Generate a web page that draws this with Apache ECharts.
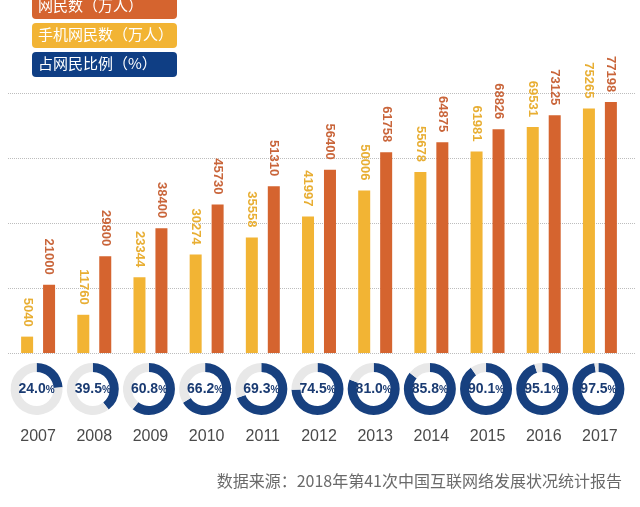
<!DOCTYPE html>
<html>
<head>
<meta charset="utf-8">
<script src="https://cdn.jsdelivr.net/npm/echarts@6/dist/echarts.min.js"></script>
<style>
  html, body { margin: 0; padding: 0; background: #fff; }
  #chart { width: 640px; height: 507px; }
</style>
</head>
<body>
<div id="chart"></div>
<script>
// dados
const years = ["2007", "2008", "2009", "2010", "2011", "2012", "2013", "2014", "2015", "2016", "2017"];
const mobileUsers = [5040, 11760, 23344, 30274, 35558, 41997, 50006, 55678, 61981, 69531, 75265];
const internetUsers = [21000, 29800, 38400, 45730, 51310, 56400, 61758, 64875, 68826, 73125, 77198];
const mobileShare = [24.0, 39.5, 60.8, 66.2, 69.3, 74.5, 81.0, 85.8, 90.1, 95.1, 97.5];
const legendNames = ["网民数（万人）", "手机网民数（万人）", "占网民比例（%）"];
const sourceText = "数据来源：2018年第41次中国互联网络发展状况统计报告";

const cjk = "'Noto Sans CJK SC', sans-serif";
const narrow = "'Liberation Sans Narrow', 'Liberation Sans', sans-serif";

const corLaranja = "#d5642f";
const corAmarelo = "#f2b434";
const corAzul = "#17407f";

let chart = echarts.init(document.getElementById("chart"));

function rotulo(cor) {
  return {
    show: true,
    position: "top",
    distance: 10,
    rotate: -90,
    align: "right",
    verticalAlign: "middle",
    color: cor,
    fontFamily: narrow,
    fontWeight: "bold",
    fontSize: 13
  };
}

// caixas da legenda
const legendColors = [corLaranja, corAmarelo, "#0f3e84"];
const legendGraphics = [];
legendNames.forEach((nome, i) => {
  const y = -6 + i * 29;
  legendGraphics.push({
    type: "rect",
    left: 32, top: y,
    shape: { width: 145, height: 25, r: 4 },
    style: { fill: legendColors[i] }
  });
  legendGraphics.push({
    type: "text",
    left: 38, top: y + 4,
    style: { text: nome, fill: "#fff", font: "15px " + cjk }
  });
});
legendGraphics.push({
  type: "text",
  right: 18, top: 473,
  style: { text: sourceText, fill: "#6a6a6a", font: "16px " + cjk }
});

const barras = [
  {
    name: legendNames[1],
    type: "bar",
    data: mobileUsers,
    barWidth: 12,
    barGap: "83%",
    itemStyle: { color: corAmarelo },
    label: rotulo("#e8ae33")
  },
  {
    name: legendNames[0],
    type: "bar",
    data: internetUsers,
    barWidth: 12,
    itemStyle: { color: corLaranja },
    label: rotulo("#c9653a")
  }
];

chart.setOption({
  animation: false,
  backgroundColor: "#fff",
  graphic: legendGraphics,
  grid: [
    { left: 10, right: 12, top: 93, bottom: 154 },
    { left: 8, right: 5, top: 93, bottom: 154 }
  ],
  xAxis: [
    {
      type: "category",
      data: years,
      gridIndex: 0,
      axisLine: { show: false },
      axisTick: { show: false },
      axisLabel: {
        margin: 76,
        fontSize: 16,
        color: "#4a4a4a",
        fontFamily: "'Liberation Sans', sans-serif"
      }
    },
    { type: "value", gridIndex: 1, min: 0, max: 1, show: false }
  ],
  yAxis: [
    {
      type: "value",
      gridIndex: 0,
      min: 0, max: 80000, interval: 20000,
      axisLabel: { show: false },
      axisLine: { show: false },
      axisTick: { show: false },
      splitLine: { show: false }
    },
    {
      type: "value",
      gridIndex: 1,
      min: 0, max: 80000, interval: 20000,
      axisLabel: { show: false },
      axisLine: { show: false },
      axisTick: { show: false },
      splitLine: { show: true, lineStyle: { color: "#bdbdbd", type: "dotted", width: 1 } }
    }
  ],
  series: barras
});

// rosquinhas posicionadas pelo eixo x
const pies = years.map((ano, i) => {
  const cx = chart.convertToPixel({ xAxisIndex: 0 }, ano);
  return {
    name: legendNames[2],
    type: "pie",
    center: [cx - 1.5, 389],
    radius: [17, 26],
    startAngle: 90,
    silent: true,
    labelLine: { show: false },
    data: [
      {
        value: mobileShare[i],
        name: ano,
        itemStyle: { color: corAzul },
        label: {
          show: true,
          position: "center",
          formatter: "{n|" + mobileShare[i].toFixed(1) + "}{u|%}",
          rich: {
            n: { fontFamily: narrow, fontWeight: "bold", fontSize: 14, color: "#1a3b72" },
            u: { fontFamily: narrow, fontWeight: "bold", fontSize: 10, color: "#1a3b72", padding: [3, 0, 0, 0] }
          }
        }
      },
      {
        value: 100 - mobileShare[i],
        name: ano + "-resto",
        itemStyle: { color: "#e8e8e8" },
        label: { show: false }
      }
    ]
  };
});

chart.setOption({ series: barras.concat(pies) });
</script>
</body>
</html>
